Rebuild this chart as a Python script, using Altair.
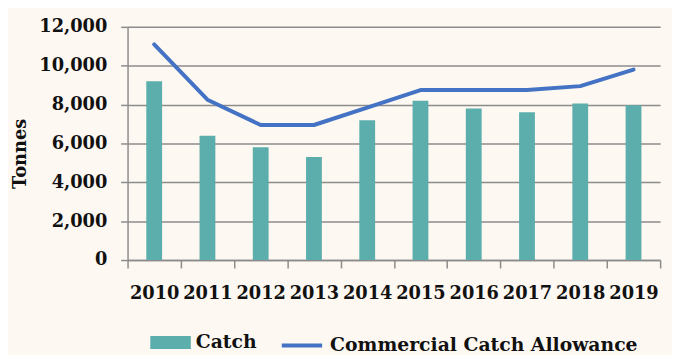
import altair as alt
import pandas as pd

years = ["2010", "2011", "2012", "2013", "2014", "2015", "2016", "2017", "2018", "2019"]
catch = [9200, 6400, 5800, 5300, 7200, 8200, 7800, 7600, 8050, 7970]
allowance = [11100, 8250, 6950, 6950, 7850, 8750, 8750, 8750, 8950, 9800]

bar_name = "Catch"
line_name = "Commercial Catch Allowance"
bar_color = "#5BAEAC"
line_color = "#4472C4"

df = pd.DataFrame({"year": years, "catch": catch, "allowance": allowance})

FONT = "DejaVu Serif"
FS = 18
GRID = "#8C8C8C"
TEXT = "#111111"

legend_common = dict(
    title=None,
    orient="none",
    direction="horizontal",
    labelFont=FONT,
    labelFontSize=19,
    labelFontWeight="bold",
    labelColor=TEXT,
    labelOffset=5,
    labelLimit=0,
    padding=0,
)

bar_legend = alt.Legend(
    legendX=23,
    legendY=299,
    symbolType="M-1,-0.32H1V0.32H-1Z",
    symbolSize=1681,
    symbolStrokeWidth=0,
    symbolOpacity=1,
    **legend_common,
)

line_legend = alt.Legend(
    legendX=153,
    legendY=299,
    symbolType="M-0.95,0H0.95",
    symbolSize=1849,
    symbolStrokeWidth=4,
    symbolOpacity=1,
    **legend_common,
)

x_axis = alt.Axis(
    title=None,
    labelAngle=0,
    labelFont=FONT,
    labelFontSize=FS,
    labelFontWeight="bold",
    labelColor=TEXT,
    labelPadding=17,
    labelOverlap=False,
    tickBand="extent",
    tickSize=8,
    tickColor=GRID,
    tickWidth=1.5,
    domainColor=GRID,
    domainWidth=1.5,
    grid=False,
)

y_axis = alt.Axis(
    title="Tonnes",
    titleFont=FONT,
    titleFontSize=FS,
    titleFontWeight="bold",
    titleColor=TEXT,
    titleAngle=270,
    titleAlign="center",
    titleBaseline="middle",
    titleX=-108,
    titleY=128,
    values=[0, 2000, 4000, 6000, 8000, 10000, 12000],
    format=",d",
    labelFont=FONT,
    labelFontSize=FS,
    labelFontWeight="bold",
    labelColor=TEXT,
    labelPadding=14,
    labelOverlap=False,
    labelFlush=False,
    tickSize=7,
    tickColor=GRID,
    tickWidth=1.5,
    grid=True,
    gridColor=GRID,
    gridWidth=1.5,
    domain=True,
    domainColor=GRID,
    domainWidth=1.5,
)

x_scale = alt.Scale(paddingInner=0, paddingOuter=0)
y_scale = alt.Scale(domain=[0, 12000], nice=False)

bars = (
    alt.Chart(df)
    .transform_calculate(series="'Catch'")
    .mark_bar(size=16)
    .encode(
        x=alt.X("year:N", sort=years, scale=x_scale, axis=x_axis),
        y=alt.Y("catch:Q", scale=y_scale, axis=y_axis),
        fill=alt.Fill("series:N", scale=alt.Scale(domain=[bar_name], range=[bar_color]), legend=bar_legend),
    )
)

line = (
    alt.Chart(df)
    .transform_calculate(series="'Commercial Catch Allowance'")
    .mark_line(strokeWidth=4, strokeCap="round", strokeJoin="round")
    .encode(
        x=alt.X("year:N", sort=years, scale=x_scale, axis=x_axis),
        y=alt.Y("allowance:Q", scale=y_scale, axis=y_axis),
        stroke=alt.Stroke("series:N", scale=alt.Scale(domain=[line_name], range=[line_color]), legend=line_legend),
    )
)

chart = (
    alt.layer(bars, line)
    .properties(
        width=539,
        height=236,
        background="#FDF8F1",
        autosize=alt.AutoSizeParams(type="none"),
        padding={"left": 121, "top": 17, "right": 12, "bottom": 94},
    )
    .configure_view(stroke=None)
    .configure_axis(labelOverlap=False)
)

chart.save("out.html", embed_options={"renderer": "svg", "actions": False})
